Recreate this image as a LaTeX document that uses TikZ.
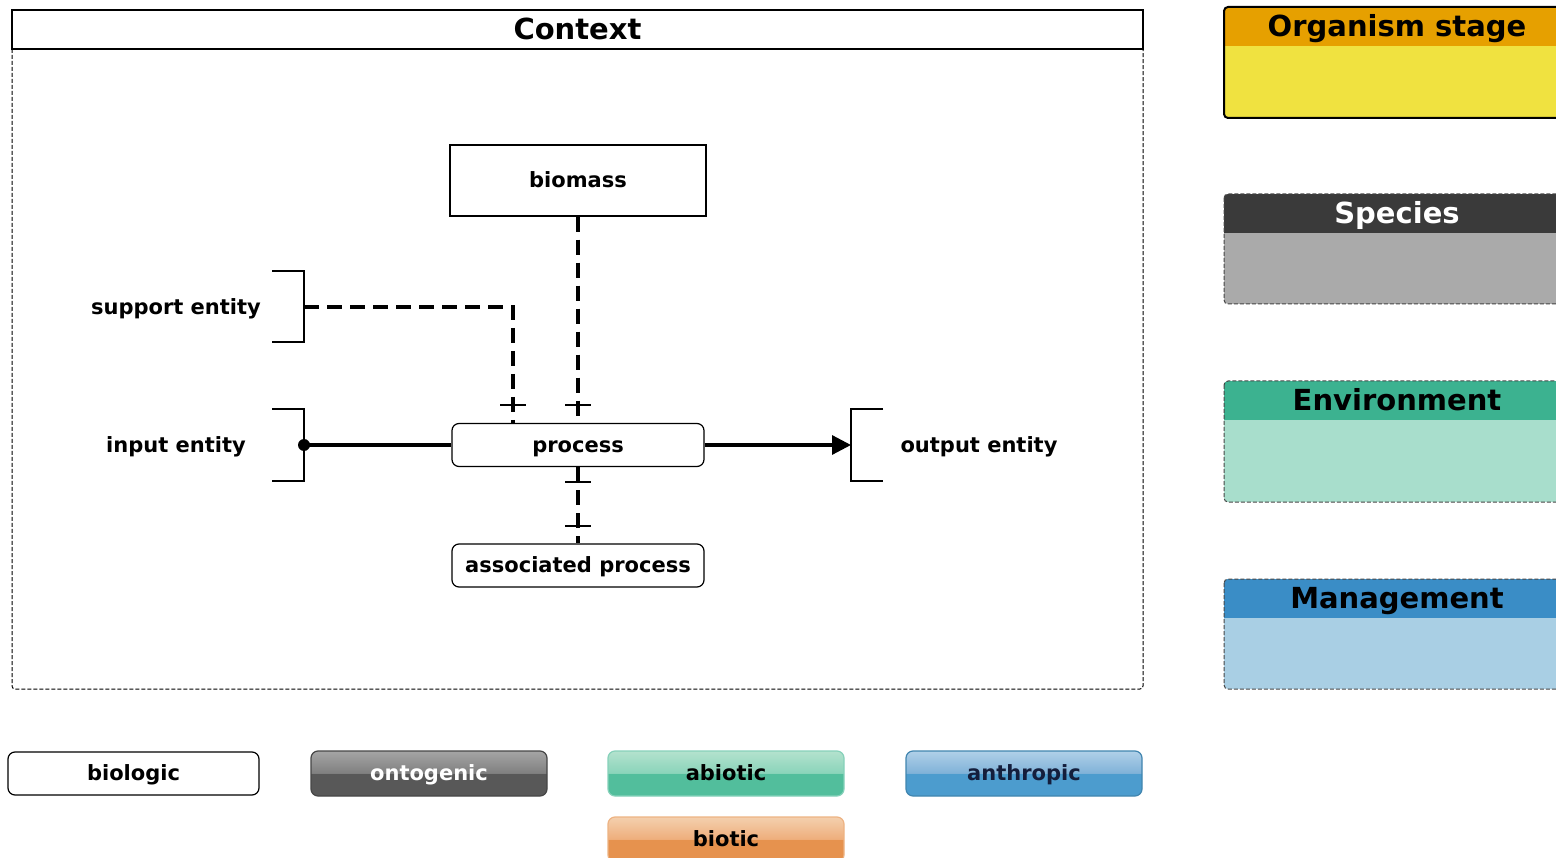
\documentclass[tikz,border=0pt]{standalone}
\usepackage{fontspec}
\setmainfont{DejaVu Sans}
\usetikzlibrary{arrows.meta}

% panel colours
\definecolor{orgHead}{RGB}{230,160,0}
\definecolor{orgBody}{RGB}{240,226,64}
\definecolor{spcHead}{RGB}{58,58,58}
\definecolor{spcBody}{RGB}{170,170,170}
\definecolor{envHead}{RGB}{60,178,144}
\definecolor{envBody}{RGB}{168,222,204}
\definecolor{mgtHead}{RGB}{58,141,198}
\definecolor{mgtBody}{RGB}{169,207,228}
\definecolor{panelEdge}{RGB}{70,70,70}

% legend button colours (top / middle / bottom half)
\definecolor{ontT}{RGB}{165,165,165}
\definecolor{ontM}{RGB}{128,128,128}
\definecolor{ontB}{RGB}{88,88,88}
\definecolor{abiT}{RGB}{180,226,206}
\definecolor{abiM}{RGB}{138,212,186}
\definecolor{abiB}{RGB}{82,190,156}
\definecolor{antT}{RGB}{176,208,232}
\definecolor{antM}{RGB}{128,178,216}
\definecolor{antB}{RGB}{76,156,206}
\definecolor{bioT}{RGB}{244,208,174}
\definecolor{bioM}{RGB}{238,174,124}
\definecolor{bioB}{RGB}{230,146,78}

\pgfdeclareverticalshading{glossOnt}{100bp}{color(0bp)=(ontB); color(25bp)=(ontB); color(50bp)=(ontB); color(50.5bp)=(ontM); color(75bp)=(ontT); color(100bp)=(ontT)}
\pgfdeclareverticalshading{glossAbi}{100bp}{color(0bp)=(abiB); color(25bp)=(abiB); color(50bp)=(abiB); color(50.5bp)=(abiM); color(75bp)=(abiT); color(100bp)=(abiT)}
\pgfdeclareverticalshading{glossAnt}{100bp}{color(0bp)=(antB); color(25bp)=(antB); color(50bp)=(antB); color(50.5bp)=(antM); color(75bp)=(antT); color(100bp)=(antT)}
\pgfdeclareverticalshading{glossBio}{100bp}{color(0bp)=(bioB); color(25bp)=(bioB); color(50bp)=(bioB); color(50.5bp)=(bioM); color(75bp)=(bioT); color(100bp)=(bioT)}

\tikzset{
  lbl/.style={font=\bfseries\fontsize{21}{24}\selectfont, inner sep=0pt,
              text height=19.5pt, text depth=5pt},
  headtext/.style={font=\bfseries\fontsize{29}{32}\selectfont, inner sep=0pt,
              text height=27pt, text depth=7pt},
  plainbox/.style={draw, line width=1.2pt, fill=white, lbl},
  procbox/.style={plainbox, rounded corners=7pt, minimum width=252pt, minimum height=43pt},
  button/.style={lbl, rounded corners=7pt, line width=1.2pt, minimum width=236pt, minimum height=45pt},
  bracket/.style={line width=1.2pt},
  conn/.style={line width=3.2pt},
  dconn/.style={line width=3.2pt, dash pattern=on 15pt off 8pt},
  tee/.style={line width=2pt},
  frame/.style={line width=1pt, dash pattern=on 4pt off 2pt, rounded corners=3pt},
}

\begin{document}
\begin{tikzpicture}[x=1pt, y=-1pt]
\useasboundingbox (0,0) rectangle (1556,858);
\clip (0,0) rectangle (1556,858);

% ---- context frame ----
\draw[frame] (12,49) -- (12,689) -- (1143,689) -- (1143,49);
\node[draw, line width=1.2pt, headtext, minimum width=1131pt, minimum height=39pt] (ctx) at (577.5,29.5) {Context};

% ---- central nodes ----
\node[plainbox, minimum width=256pt, minimum height=71pt] (biomass) at (578,180.5) {biomass};
\node[procbox] (process) at (578,445) {process};
\node[procbox] (assoc) at (578,565.5) {associated process};

% ---- entity labels with brackets ----
\node[lbl] (support) at (176,307) {support entity};
\node[lbl] (input) at (176,445) {input entity};
\node[lbl] (output) at (979,445) {output entity};

\draw[bracket] (272,271) -- (304,271) -- (304,342) -- (272,342);
\draw[bracket] (272,409) -- (304,409) -- (304,481) -- (272,481);
\draw[bracket] (883,409) -- (851,409) -- (851,481) -- (883,481);
\coordinate (supB) at (304,307);
\coordinate (inB) at (304,445);
\coordinate (outB) at (851,445);

% ---- connectors ----
\draw[conn] (inB) -- (process.west);
\fill (inB) circle (6pt);
\draw[conn, -{Triangle[length=19pt, width=19pt]}] (process.east) -- (outB);
\draw[dconn] (biomass.south) -- (process.north);
\draw[dconn] (supB) -| ([xshift=-65pt]process.north);
\draw[dconn] (process.south) -- (assoc.north);

% bars across the dashed links
\draw[tee] (565,405) -- (591,405);
\draw[tee] (500,405) -- (526,405);
\draw[tee] (565,482) -- (591,482);
\draw[tee] (565,526) -- (591,526);

% ---- legend buttons ----
\node[button, draw=black, fill=white, minimum width=251pt, minimum height=43pt] (biologic) at (133.5,773.5) {biologic};
\node[button, draw=ontB!80!black, shading=glossOnt, text=white] (ontogenic) at (429,773.5) {ontogenic};
\node[button, draw=abiB!70!white, shading=glossAbi] (abiotic) at (726,773.5) {abiotic};
\node[button, draw=antB!85!black, shading=glossAnt, text={rgb,255:red,20;green,30;blue,60}] (anthropic) at (1024,773.5) {anthropic};
\node[button, draw=bioB!70!white, shading=glossBio] (biotic) at (726,839.5) {biotic};

% ---- side panels ----
\begin{scope}
  \clip[rounded corners=4pt] (1224,7) rectangle (1600,118);
  \fill[orgBody] (1224,7) rectangle (1600,118);
  \fill[orgHead] (1224,7) rectangle (1600,46);
\end{scope}
\draw[line width=2pt, rounded corners=4pt] (1224,7) rectangle (1600,118);
\node[headtext] (orgstage) at (1397,26.5) {Organism stage};

\begin{scope}
  \clip[rounded corners=4pt] (1224,194) rectangle (1600,304);
  \fill[spcBody] (1224,194) rectangle (1600,304);
  \fill[spcHead] (1224,194) rectangle (1600,233);
\end{scope}
\draw[frame, draw=panelEdge, rounded corners=4pt] (1224,194) rectangle (1600,304);
\node[headtext, text=white] (species) at (1397,213.5) {Species};

\begin{scope}
  \clip[rounded corners=4pt] (1224,381) rectangle (1600,502);
  \fill[envBody] (1224,381) rectangle (1600,502);
  \fill[envHead] (1224,381) rectangle (1600,420);
\end{scope}
\draw[frame, draw=panelEdge, rounded corners=4pt] (1224,381) rectangle (1600,502);
\node[headtext] (environment) at (1397,400.5) {Environment};

\begin{scope}
  \clip[rounded corners=4pt] (1224,579) rectangle (1600,689);
  \fill[mgtBody] (1224,579) rectangle (1600,689);
  \fill[mgtHead] (1224,579) rectangle (1600,618);
\end{scope}
\draw[frame, draw=panelEdge, rounded corners=4pt] (1224,579) rectangle (1600,689);
\node[headtext] (management) at (1397,598.5) {Management};
\end{tikzpicture}
\end{document}
